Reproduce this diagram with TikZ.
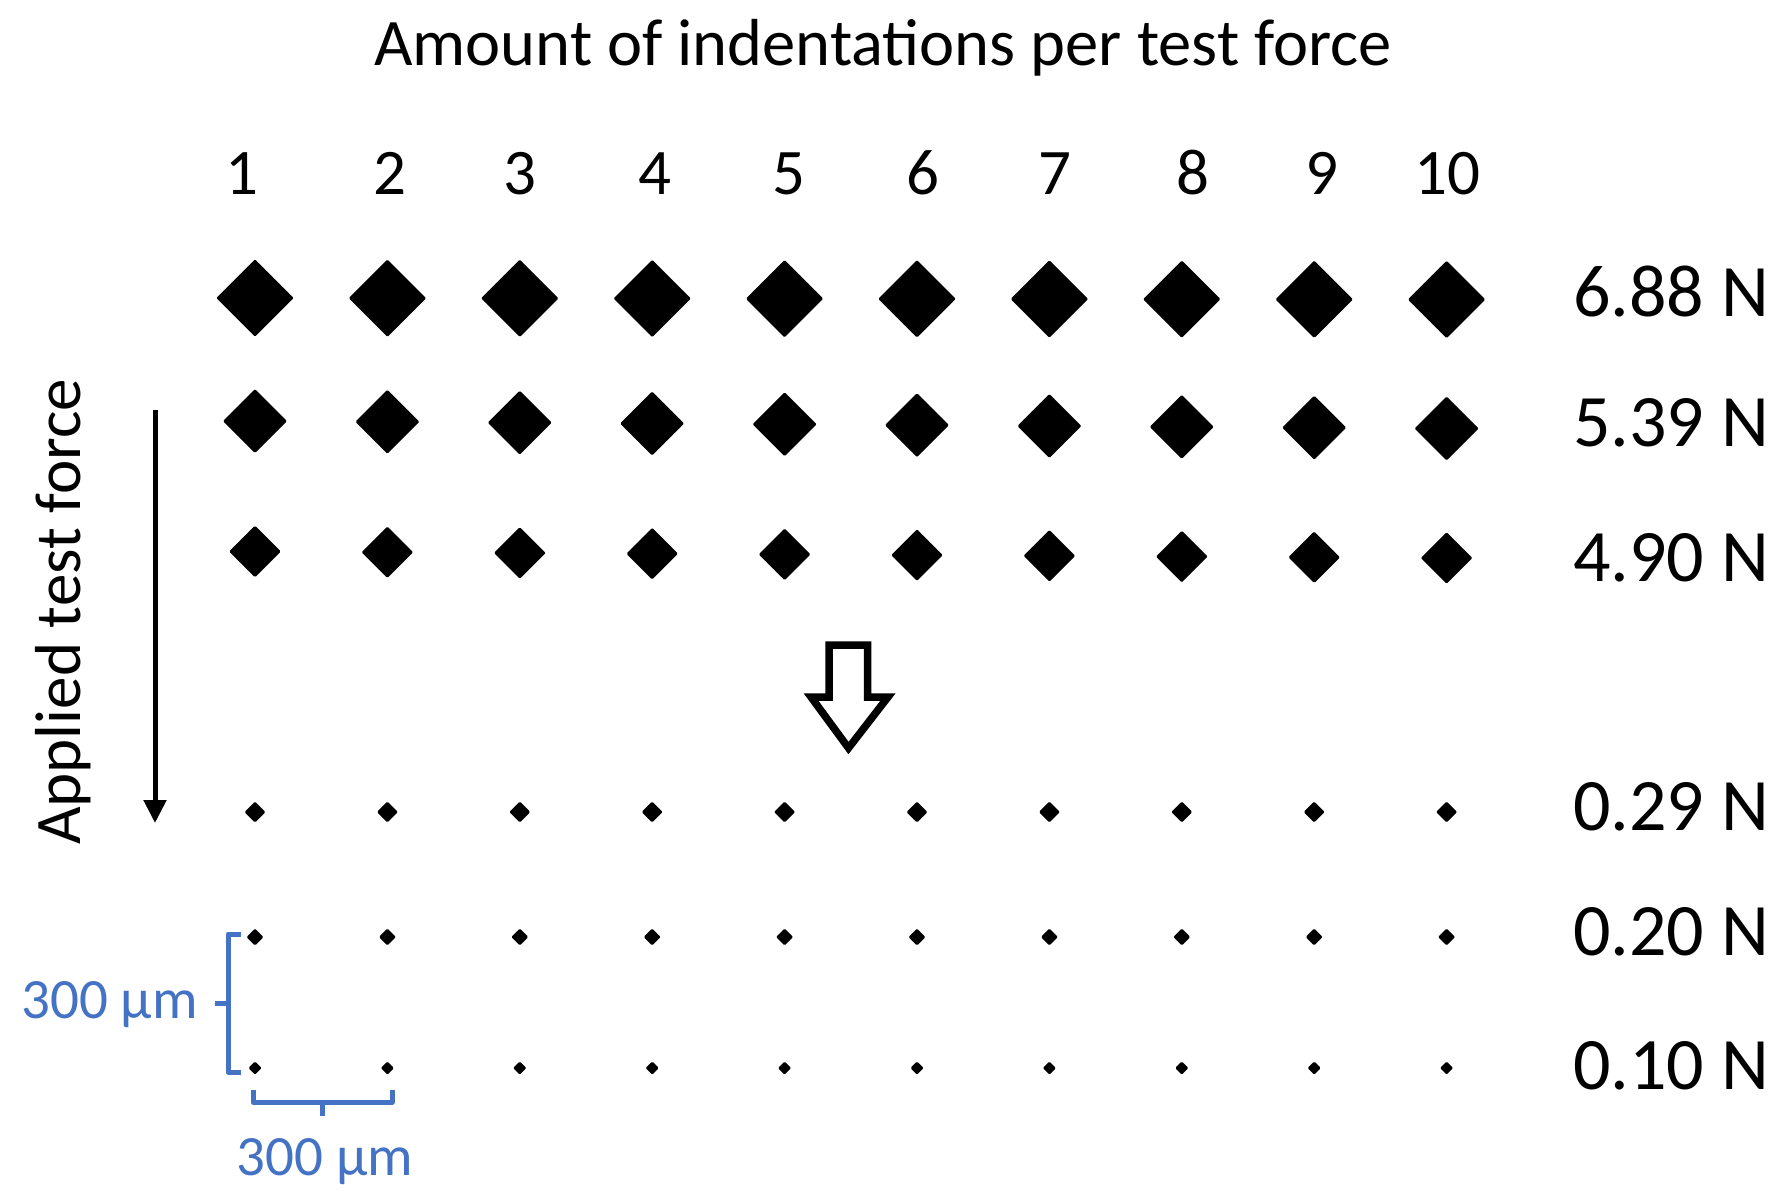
\documentclass[tikz,border=0pt]{standalone}
\usepackage{fontspec}
\setmainfont{Carlito}
\usetikzlibrary{shapes.geometric,arrows.meta}
\definecolor{brblue}{HTML}{4472C4}
\tikzset{
  ttl/.style={inner sep=0pt, anchor=base, font=\fontsize{66.5}{70}\selectfont},
  colnum/.style={inner sep=0pt, anchor=base, font=\fontsize{65}{70}\selectfont},
  force/.style={inner sep=0pt, anchor=base west, font=\fontsize{74}{80}\selectfont},
  ind/.style={diamond, fill=black, draw=none, inner sep=0pt, outer sep=0pt, aspect=1, rounded corners=1.2pt},
  bluelbl/.style={inner sep=0pt, text=brblue, font=\fontsize{57}{60}\selectfont},
  bracket/.style={draw=brblue, line width=5pt, line join=round},
}
\begin{document}
\begin{tikzpicture}[x=1pt,y=-1pt]
\useasboundingbox (0,0) rectangle (1787,1203);
% title
\node[ttl] (title) at (883,65) {Amount of indentations per test force};
% column numbers
\foreach \c/\xx in {1/242,2/390,3/520,4/655,5/789,6/923,7/1055,8/1193,9/1322,10/1447}
  \node[colnum] (n\c) at (\xx,194) {\c};
% indentation rows
\foreach \r/\yy/\dy/\hh in {a/298/1.5/38.7, b/421/7.5/32, c/551.5/6.5/25.8, d/812/0/10.5, e/937/0/8.5, f/1068/0/6.6}{
  \foreach \c in {1,...,10}{
    \pgfmathsetmacro{\px}{255+132.4*(\c-1)}
    \pgfmathsetmacro{\py}{\yy+\dy*(\c-1)/9}
    \pgfmathsetmacro{\sz}{2*\hh}
    \node[ind, minimum size=\sz pt] (d\r\c) at (\px,\py) {};
  }
}
% force labels
\node[force] (fa) at (1573,316) {6.88 N};
\node[force] (fb) at (1573,446) {5.39 N};
\node[force] (fc) at (1573,581) {4.90 N};
\node[force] (fd) at (1573,830) {0.29 N};
\node[force] (fe) at (1573,955) {0.20 N};
\node[force] (ff) at (1573,1089) {0.10 N};
% applied test force
\node[inner sep=0pt, anchor=base, rotate=90, font=\fontsize{65}{70}\selectfont] (atf) at (80,612) {Applied test force};
\coordinate (at) at (155,410);
\coordinate (ab) at (155,823);
\draw[line width=5pt, -{Triangle[width=22pt,length=23pt]}] (at) -- (ab);
% hollow arrow
\coordinate (h1) at (829,645);
\coordinate (h2) at (867.5,645);
\coordinate (h3) at (867.5,697);
\coordinate (h4) at (888,697);
\coordinate (h5) at (848.5,748);
\coordinate (h6) at (811,697);
\coordinate (h7) at (829,697);
\draw[line width=7.5pt, line join=miter, fill=white] (h1) -- (h2) -- (h3) -- (h4) -- (h5) -- (h6) -- (h7) -- cycle;
% vertical bracket
\coordinate (v1) at (241,934);
\coordinate (v2) at (228,934);
\coordinate (v3) at (228,1072);
\coordinate (v4) at (241,1072);
\coordinate (vm) at (228,1003);
\coordinate (vt) at (215,1003);
\draw[bracket] (v1) -- (v2) -- (v3) -- (v4);
\draw[bracket] (vm) -- (vt);
% horizontal bracket
\coordinate (b1) at (253,1090);
\coordinate (b2) at (253,1102);
\coordinate (b3) at (392,1102);
\coordinate (b4) at (392,1090);
\coordinate (bm) at (322,1102);
\coordinate (bt) at (322,1116);
\draw[bracket] (b1) -- (b2) -- (b3) -- (b4);
\draw[bracket] (bm) -- (bt);
% blue labels
\node[bluelbl, anchor=base east] (lv) at (198,1018) {300 µm};
\node[bluelbl, anchor=base] (lh) at (325,1175) {300 µm};
\end{tikzpicture}
\end{document}
